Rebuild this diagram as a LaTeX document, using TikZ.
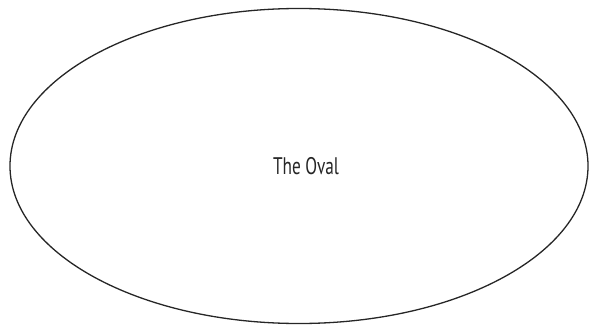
\documentclass[tikz,border=0pt]{standalone}
\usepackage{fontspec}
\setmainfont{PT Sans}
\usetikzlibrary{shapes.geometric}
\begin{document}
\begin{tikzpicture}[x=1pt,y=-1pt,
  oval/.style={draw=black!85, line width=1.3pt, ellipse, minimum width=578pt, minimum height=315pt, inner sep=0pt},
  ovaltext/.style={font=\fontsize{24}{28}\selectfont, xscale=0.72, text=black!85}]
\useasboundingbox (0,0) rectangle (596,326);
\node[oval] (o) at (299,166) {};
\node[ovaltext] (t) at (306,166) {The Oval};
\end{tikzpicture}
\end{document}
